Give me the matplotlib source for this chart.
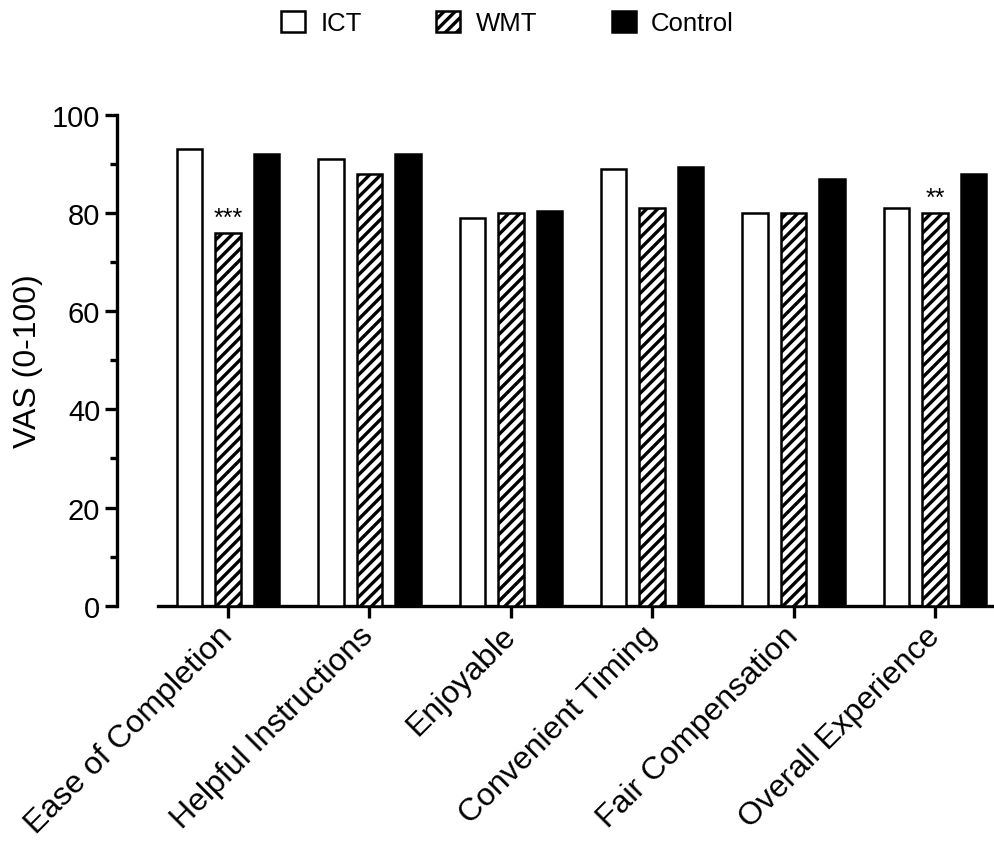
import matplotlib
matplotlib.use("Agg")
import matplotlib.pyplot as plt
import numpy as np
from matplotlib.ticker import MultipleLocator

categories = ["Ease of Completion", "Helpful Instructions", "Enjoyable",
              "Convenient Timing", "Fair Compensation", "Overall Experience"]
series_names = ["ICT", "WMT", "Control"]
ict = [93, 91, 79, 89, 80, 81]
wmt = [76, 88, 80, 81, 80, 80]
control = [92, 92, 80.4, 89.4, 87, 88]
annotations = {0: "***", 5: "**"}  # on WMT bars
y_ticks = [0, 20, 40, 60, 80, 100]
y_label = "VAS (0-100)"

plt.rcParams['font.family'] = ['Liberation Sans', 'DejaVu Sans']
plt.rcParams['hatch.linewidth'] = 2.4

W, H = 994, 845
fig = plt.figure(figsize=(W / 100, H / 100), dpi=100)

left_px, bottom_px, top_px = 117, 606.7, 115.7
ax = fig.add_axes([left_px / W, 1 - bottom_px / H, (W - left_px) / W,
                   (bottom_px - top_px) / H])

x = np.arange(len(categories))
grp = 141.4
off = 38.5 / grp
bw = 25.5 / grp
lw = 1.8

styles = [dict(facecolor="white", edgecolor="black", hatch=None),
          dict(facecolor="white", edgecolor="black", hatch="///"),
          dict(facecolor="black", edgecolor="black", hatch=None)]
handles = []
for i, (vals, st, name) in enumerate(zip([ict, wmt, control], styles, series_names)):
    b = ax.bar(x + (i - 1) * off, vals, width=bw, linewidth=lw, label=name,
               zorder=3, **st)
    handles.append(b)

for idx, txt in annotations.items():
    ax.text(x[idx], wmt[idx] + 1.6, txt, ha="center", va="baseline",
            fontsize=18, zorder=4)

xl = (left_px - 228) / grp
xr = (W - 228) / grp
ax.set_xlim(xl, xr)
ax.set_ylim(0, 100)

for s in ["top", "right"]:
    ax.spines[s].set_visible(False)
for s in ["left", "bottom"]:
    ax.spines[s].set_linewidth(2.4)
ax.spines["left"].set_bounds(0, 100)
ax.spines["bottom"].set_bounds((158 - 228) / grp, xr)

ax.set_yticks(y_ticks)
ax.yaxis.set_minor_locator(MultipleLocator(10))
ax.tick_params(axis="y", which="major", length=8.6, width=2.4, labelsize=21, pad=3.5)
ax.tick_params(axis="y", which="minor", length=5, width=2.4)
ax.set_xticks(x)
ax.set_xticklabels(categories, rotation=45, ha="right", va="center",
                   rotation_mode="anchor", fontsize=23)
ax.tick_params(axis="x", which="major", length=8.3, width=2.4, pad=10)
ax.tick_params(axis="x", which="minor", bottom=False)

ax.set_ylabel(y_label, fontsize=23)
ax.yaxis.set_label_coords((43 - left_px) / (W - left_px), 0.5)

leg = fig.legend(handles=handles, labels=series_names, loc="center",
                 bbox_to_anchor=(507.5 / W, 1 - 24 / H), ncol=3, frameon=False,
                 prop={"size": 18.5}, handlelength=0.93, handleheight=0.93,
                 handletextpad=0.6, columnspacing=2.9, borderpad=0)

fig.savefig("out.png", dpi=100)
